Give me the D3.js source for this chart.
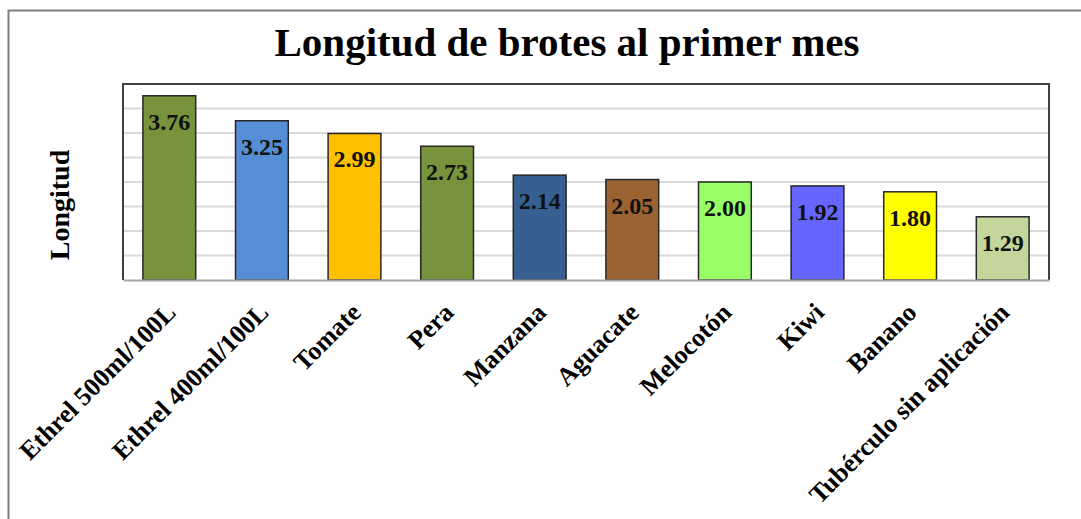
<!DOCTYPE html>
<html>
<head>
<meta charset="utf-8">
<script src="https://cdn.jsdelivr.net/npm/d3@7"></script>
<style>
  body { margin: 0; background: #fff; }
  text { font-family: "Liberation Serif", "Times New Roman", serif; font-weight: bold; }
</style>
</head>
<body>
<div id="chart"></div>
<script>
// data
var categories = ["Ethrel 500ml/100L", "Ethrel 400ml/100L", "Tomate", "Pera", "Manzana",
                  "Aguacate", "Melocotón", "Kiwi", "Banano", "Tubérculo sin aplicación"];
var values = [3.76, 3.25, 2.99, 2.73, 2.14, 2.05, 2.00, 1.92, 1.80, 1.29];
var colors = ["#77933C", "#558ED5", "#FFC000", "#77933C", "#376092",
              "#9B6331", "#99FF66", "#6666FF", "#FFFF00", "#C3D69B"];
var gridTicks = [0.5, 1, 1.5, 2, 2.5, 3, 3.5];

var W = 1081, H = 519;
var margin = {top: 84, right: 32, bottom: 239, left: 123},
    width = W - margin.left - margin.right,
    height = H - margin.top - margin.bottom;

var svg = d3.select("#chart").append("svg")
  .attr("width", W)
  .attr("height", H);

// outer frame (runs off the right and bottom of the picture)
svg.append("rect")
  .attr("x", 8.5).attr("y", 10.5)
  .attr("width", W + 20).attr("height", H + 20)
  .attr("fill", "none")
  .attr("stroke", "#7f7f7f")
  .attr("stroke-width", 2);

// title
svg.append("text")
  .attr("x", 567)
  .attr("y", 56)
  .attr("text-anchor", "middle")
  .attr("font-size", 41)
  .attr("fill", "#000")
  .text("Longitud de brotes al primer mes");

// y axis label
svg.append("text")
  .attr("transform", "translate(69,205) rotate(-90)")
  .attr("text-anchor", "middle")
  .attr("font-size", 28)
  .attr("fill", "#000")
  .text("Longitud");

var g = svg.append("g")
  .attr("transform", "translate(" + margin.left + "," + margin.top + ")");

var x = d3.scaleBand()
  .domain(categories)
  .range([0, width])
  .paddingInner(0.43)
  .paddingOuter(0.215);

var y = d3.scaleLinear()
  .domain([0, 4])
  .range([height, 0]);

// gridlines
g.selectAll(".grid")
  .data(gridTicks)
  .enter().append("line")
  .attr("x1", 0).attr("x2", width)
  .attr("y1", function(d) { return y(d); })
  .attr("y2", function(d) { return y(d); })
  .attr("stroke", "#d9d9d9")
  .attr("stroke-width", 2);

// plot area border (top, left, right)
g.append("path")
  .attr("d", "M0," + height + "V0H" + width + "V" + height)
  .attr("fill", "none")
  .attr("stroke", "#404040")
  .attr("stroke-width", 2);

// bars
g.selectAll(".bar")
  .data(values)
  .enter().append("rect")
  .attr("x", function(d, i) { return x(categories[i]); })
  .attr("y", function(d) { return y(d); })
  .attr("width", x.bandwidth())
  .attr("height", function(d) { return height - y(d); })
  .attr("fill", function(d, i) { return colors[i]; })
  .attr("stroke", "#262626")
  .attr("stroke-width", 1.5);

// value labels inside the top of each bar
g.selectAll(".val")
  .data(values)
  .enter().append("text")
  .attr("x", function(d, i) { return x(categories[i]) + x.bandwidth() / 2; })
  .attr("y", function(d) { return y(d) + 34; })
  .attr("text-anchor", "middle")
  .attr("font-size", 24)
  .attr("fill", "#111")
  .text(function(d) { return d.toFixed(2); });

// x axis
var xAxis = g.append("g")
  .attr("transform", "translate(0," + height + ")")
  .call(d3.axisBottom(x).tickSize(0).tickPadding(0));

xAxis.select(".domain")
  .attr("stroke", "#a6a6a6")
  .attr("stroke-width", 2);

xAxis.selectAll("text")
  .attr("font-family", "Liberation Serif, serif")
  .attr("font-weight", "bold")
  .attr("font-size", 26)
  .attr("fill", "#000")
  .attr("text-anchor", "end")
  .attr("dy", null)
  .attr("y", 0)
  .attr("transform", "translate(8,34) rotate(-45)");
</script>
</body>
</html>
